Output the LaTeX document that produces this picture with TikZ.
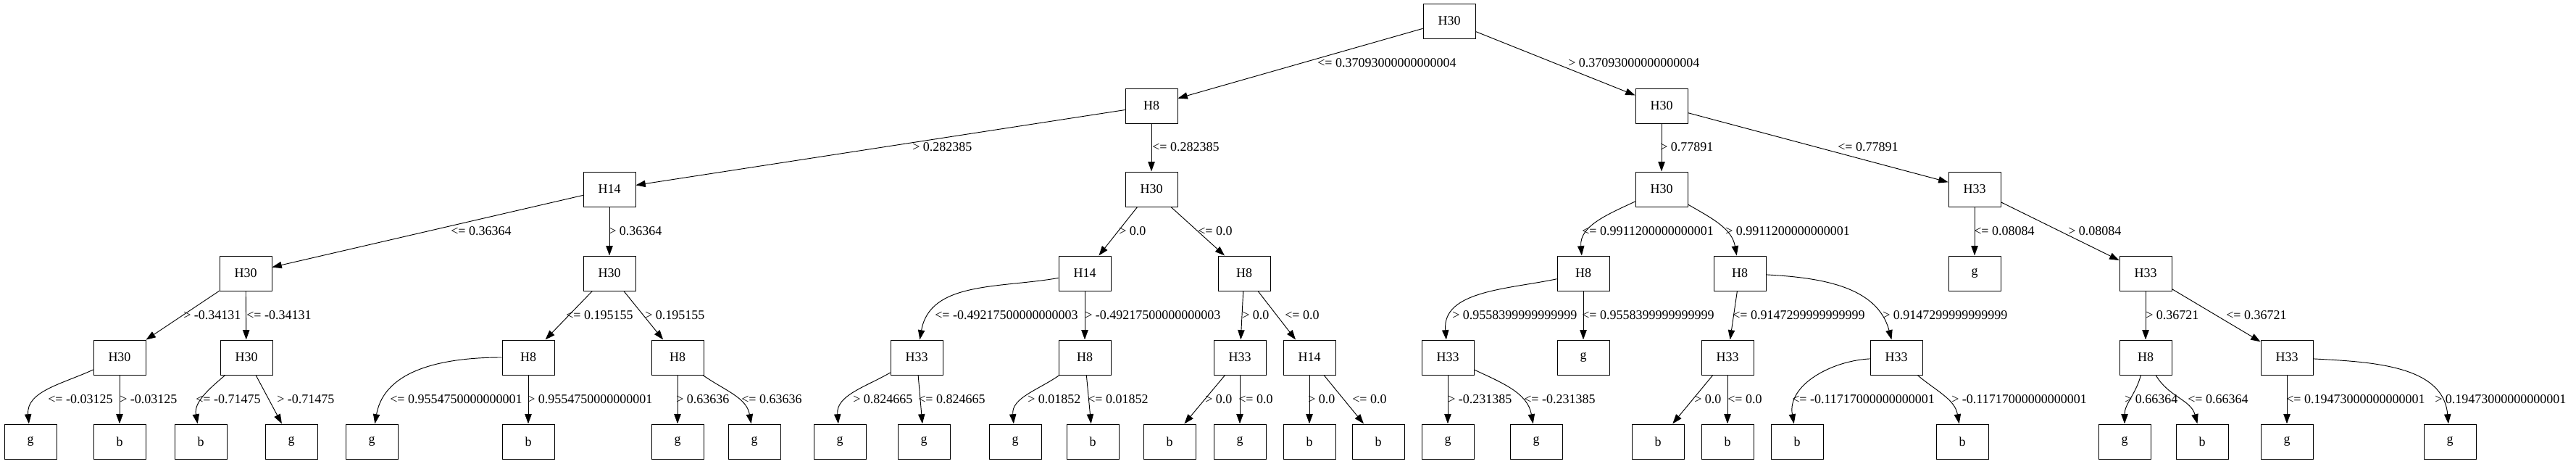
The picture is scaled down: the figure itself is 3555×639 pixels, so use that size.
\documentclass[tikz,border=0pt]{standalone}
\usepackage{fontspec}
\setmainfont{Liberation Serif}
\usetikzlibrary{arrows.meta}
\begin{document}
\begin{tikzpicture}[x=0.75pt, y=0.75pt, every node/.style={font=\fontsize{13.5}{16}\selectfont},
  box/.style={draw, line width=0.7pt, minimum width=54pt, minimum height=36pt, inner sep=0pt},
  lbl/.style={anchor=west, inner sep=0pt},
  edge/.style={line width=0.7pt, -{Triangle[length=10pt, width=7pt]}}]
  \useasboundingbox (0,0) rectangle (3555,639);
  \node[box] (root) at (2000,610) {H30};
  \node[box] (a1) at (1589,493) {H8};
  \node[box] (a2) at (2293,493) {H30};
  \foreach \n/\x/\txt in {1/841/H14, 2/1589/H30, 3/2293/H30, 4/2725/H33}
    \node[box] (b\n) at (\x,378) {\txt};
  \foreach \n/\x/\txt in {1/339/H30, 2/841/H30, 3/1497/H14, 4/1717/H8, 5/2185/H8, 6/2401/H8, 7/2725/g, 8/2961/H33}
    \node[box] (c\n) at (\x,262) {\txt};
  \foreach \n/\x/\txt in {1/165/H30, 2/340/H30, 3/729/H8, 4/935/H8, 5/1265/H33, 6/1497/H8, 7/1711/H33,
      8/1807/H14, 9/1998/H33, 10/2185/g, 11/2384/H33, 12/2617/H33, 13/2961/H8, 14/3156/H33}
    \node[box] (d\n) at (\x,146) {\txt};
  \foreach \n/\x/\txt in {1/42/g, 2/165/b, 3/277/b, 4/402/g, 5/513/g, 6/729/b, 7/935/g, 8/1041/g, 9/1159/g,
      10/1275/g, 11/1401/g, 12/1508/b, 13/1614/b, 14/1711/g, 15/1807/b, 16/1902/b, 17/1998/g, 18/2120/g,
      19/2288/b, 20/2384/b, 21/2480/b, 22/2708/b, 23/2932/g, 24/3039/b, 25/3156/g, 26/3381/g}
    \node[box] (e\n) at (\x,30) {\txt};

  \draw[edge] (root) -- (a1);
  \draw[edge] (root) -- (a2);
  \draw[edge] (a1) -- (b1);
  \draw[edge] (a1) -- (b2);
  \draw[edge] (a2) -- (b3);
  \draw[edge] (a2) -- (b4);
  \draw[edge] (b1) -- (c1);
  \draw[edge] (b1) -- (c2);
  \draw[edge] (b2) -- (c3);
  \draw[edge] (b2) -- (c4);
  \draw[edge] (b3) to[out=205, in=95] (c5);
  \draw[edge] (b3) to[out=-30, in=100] (c6);
  \draw[edge] (b4) -- (c7);
  \draw[edge] (b4) -- (c8);
  \draw[edge] (c1) -- (d1);
  \draw[edge] (c1) -- (d2);
  \draw[edge] (c2) -- (d3);
  \draw[edge] (c2) -- (d4);
  \draw[edge] (c3) to[out=190, in=80] (d5);
  \draw[edge] (c3) -- (d6);
  \draw[edge] (c4) -- (d7);
  \draw[edge] (c4) -- (d8);
  \draw[edge] (c5) to[out=192, in=95] (d9);
  \draw[edge] (c5) -- (d10);
  \draw[edge] (c6) -- (d11);
  \draw[edge] (c6) to[out=-3, in=105] (d12);
  \draw[edge] (c8) -- (d13);
  \draw[edge] (c8) -- (d14);
  \draw[edge] (d1) to[out=205, in=95] (e1);
  \draw[edge] (d1) -- (e2);
  \draw[edge] (d2) to[out=220, in=100] (e3);
  \draw[edge] (d2) -- (e4);
  \draw[edge] (d3) to[out=180, in=80] (e5);
  \draw[edge] (d3) -- (e6);
  \draw[edge] (d4) -- (e7);
  \draw[edge] (d4) to[out=-35, in=100] (e8);
  \draw[edge] (d5) to[out=210, in=95] (e9);
  \draw[edge] (d5) -- (e10);
  \draw[edge] (d6) to[out=215, in=95] (e11);
  \draw[edge] (d6) -- (e12);
  \draw[edge] (d7) -- (e13);
  \draw[edge] (d7) -- (e14);
  \draw[edge] (d8) -- (e15);
  \draw[edge] (d8) -- (e16);
  \draw[edge] (d9) -- (e17);
  \draw[edge] (d9) to[out=-25, in=100] (e18);
  \draw[edge] (d11) -- (e19);
  \draw[edge] (d11) -- (e20);
  \draw[edge] (d12) to[out=183, in=100] (e21);
  \draw[edge] (d12) to[out=-40, in=100] (e22);
  \draw[edge] (d13) to[out=255, in=90] (e23);
  \draw[edge] (d13) to[out=-60, in=105] (e24);
  \draw[edge] (d14) -- (e25);
  \draw[edge] (d14) to[out=-3, in=95] (e26);

  \node[lbl] (la1) at (1818,552) {<= 0.37093000000000004};
  \node[lbl] (la2) at (2164,552) {> 0.37093000000000004};
  \foreach \x/\txt [count=\i] in {1259/> 0.282385, 1590/<= 0.282385, 2291/> 0.77891, 2536/<= 0.77891}
    \node[lbl] (lb\i) at (\x,436) {\txt};
  \foreach \x/\txt [count=\i] in {622/<= 0.36364, 840/> 0.36364, 1544/> 0.0, 1653/<= 0.0,
      2183/<= 0.9911200000000001, 2381/> 0.9911200000000001, 2724/<= 0.08084, 2854/> 0.08084}
    \node[lbl] (lc\i) at (\x,320) {\txt};
  \foreach \x/\txt [count=\i] in {253/> -0.34131, 340/<= -0.34131, 781/<= 0.195155, 890/> 0.195155,
      1290/<= -0.49217500000000003, 1497/> -0.49217500000000003, 1714/> 0.0, 1773/<= 0.0,
      2004/> 0.9558399999999999, 2183/<= 0.9558399999999999, 2391/<= 0.9147299999999999,
      2598/> 0.9147299999999999, 2961/> 0.36721, 3072/<= 0.36721}
    \node[lbl] (ld\i) at (\x,204) {\txt};
  \foreach \x/\txt [count=\i] in {66/<= -0.03125, 165/> -0.03125, 270/<= -0.71475, 382/> -0.71475,
      538/<= 0.9554750000000001, 728/> 0.9554750000000001, 933/> 0.63636, 1023/<= 0.63636,
      1177/> 0.824665, 1267/<= 0.824665, 1418/> 0.01852, 1501/<= 0.01852, 1663/> 0.0, 1709/<= 0.0,
      1805/> 0.0, 1866/<= 0.0, 1998/> -0.231385, 2103/<= -0.231385, 2338/> 0.0, 2384/<= 0.0,
      2473/<= -0.11717000000000001, 2693/> -0.11717000000000001, 2932/> 0.66364, 3019/<= 0.66364,
      3155/<= 0.19473000000000001, 3360/> 0.19473000000000001}
    \node[lbl] (le\i) at (\x,88) {\txt};
\end{tikzpicture}
\end{document}
